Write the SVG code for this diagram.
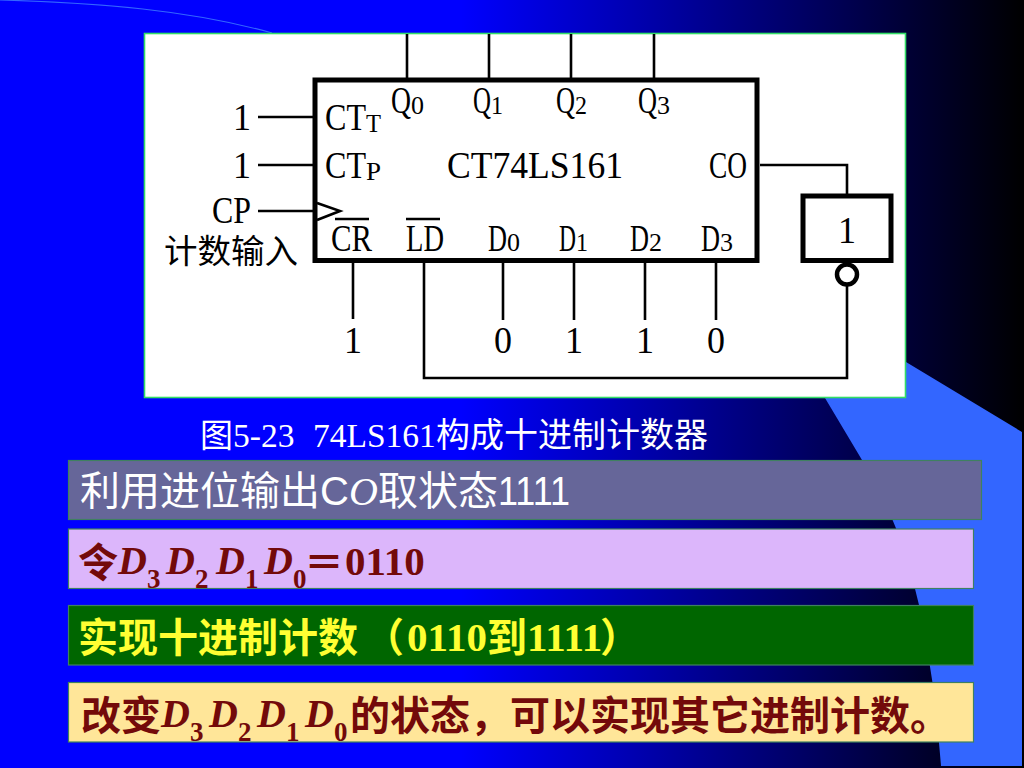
<svg xmlns="http://www.w3.org/2000/svg" width="1024" height="768" viewBox="0 0 1024 768">
<style>
.w{stroke:#000;stroke-width:2.6;fill:none}
.b{stroke:#000;stroke-width:5;fill:none}
.m{font-family:"Liberation Serif",serif;font-size:37px;fill:#000}
.s{font-family:"Liberation Serif",serif;font-size:26px;fill:#000}
.c{font-family:"Noto Sans CJK SC",sans-serif;font-size:40px}
.cb{font-family:"Noto Sans CJK SC",sans-serif;font-size:40px;font-weight:700}
.tb{font-family:"Liberation Serif",serif;font-size:41px;font-weight:700}
.ti{font-family:"Liberation Serif",serif;font-size:40px;font-weight:700;font-style:italic}
.sub{font-family:"Liberation Serif",serif;font-size:27px;font-weight:700}
.red{fill:#730a0a}
.row{stroke:#3f8060;stroke-width:1.2}
</style>
<defs><linearGradient id="bg" x1="0" y1="0" x2="1" y2="0"><stop offset="0.45" stop-color="#0000ff"/><stop offset="1" stop-color="#000000"/></linearGradient></defs>
<rect width="1024" height="768" fill="url(#bg)"/>
<path d="M0 0C100 3 190 10 272 33" fill="none" stroke="#3366ff" stroke-width="1.2"/>
<path d="M906 362L1022 432V766H941Q935 680 919 605Q900 520 862 460L825 398Z" fill="#3366ff"/>
<rect x="144.500" y="33.500" width="761" height="364" fill="#fff" stroke="#33dd66" stroke-width="1.6"/>
<g id="connectors">
<path class="w" d="M407 34V78M489 34V78M571 34V78M654 34V78"/>
<path class="w" d="M258 117H313M258 165H313M258 211H316"/>
<path class="w" d="M353 263V319M503 263V320M574 263V320M645 263V320M716 263V320"/>
<path class="w" d="M424 263V378H847V286"/>
<path class="w" d="M760 165H847V194"/>
</g>
<g id="chip">
<rect class="b" x="315" y="80" width="442" height="180.500"/>
<path class="w" d="M317 203L340 211L317 220"/>
<path class="w" d="M335 219H369M406 219H440"/>
<text class="m" x="325" y="130" textLength="41" lengthAdjust="spacingAndGlyphs">CT</text><text class="s" x="366" y="132" textLength="15" lengthAdjust="spacingAndGlyphs">T</text>
<text class="m" x="325" y="178" textLength="41" lengthAdjust="spacingAndGlyphs">CT</text><text class="s" x="366" y="180" textLength="15" lengthAdjust="spacingAndGlyphs">P</text>
<text class="m" x="391" y="113" textLength="20" lengthAdjust="spacingAndGlyphs">Q</text><text class="s" x="411" y="114" textLength="13" lengthAdjust="spacingAndGlyphs">0</text>
<text class="m" x="473" y="113" textLength="18" lengthAdjust="spacingAndGlyphs">Q</text><text class="s" x="491" y="114" textLength="12" lengthAdjust="spacingAndGlyphs">1</text>
<text class="m" x="556" y="113" textLength="19" lengthAdjust="spacingAndGlyphs">Q</text><text class="s" x="575" y="114" textLength="12" lengthAdjust="spacingAndGlyphs">2</text>
<text class="m" x="638" y="113" textLength="19" lengthAdjust="spacingAndGlyphs">Q</text><text class="s" x="657" y="114" textLength="13" lengthAdjust="spacingAndGlyphs">3</text>
<text class="m" x="447" y="178" textLength="176" lengthAdjust="spacingAndGlyphs">CT74LS161</text>
<text class="m" x="709" y="178" textLength="38" lengthAdjust="spacingAndGlyphs">CO</text>
<text class="m" x="331" y="251" textLength="41" lengthAdjust="spacingAndGlyphs">CR</text>
<text class="m" x="406" y="251" textLength="38" lengthAdjust="spacingAndGlyphs">LD</text>
<text class="m" x="488" y="251" textLength="19" lengthAdjust="spacingAndGlyphs">D</text><text class="s" x="507" y="251" textLength="13" lengthAdjust="spacingAndGlyphs">0</text>
<text class="m" x="559" y="251" textLength="17" lengthAdjust="spacingAndGlyphs">D</text><text class="s" x="576" y="251" textLength="12" lengthAdjust="spacingAndGlyphs">1</text>
<text class="m" x="630" y="251" textLength="19" lengthAdjust="spacingAndGlyphs">D</text><text class="s" x="649" y="251" textLength="13" lengthAdjust="spacingAndGlyphs">2</text>
<text class="m" x="701" y="251" textLength="19" lengthAdjust="spacingAndGlyphs">D</text><text class="s" x="720" y="251" textLength="13" lengthAdjust="spacingAndGlyphs">3</text>
</g>
<g id="inputs">
<text class="m" x="233" y="130" textLength="18" lengthAdjust="spacingAndGlyphs">1</text>
<text class="m" x="233" y="178" textLength="18" lengthAdjust="spacingAndGlyphs">1</text>
<text class="m" x="212" y="223" textLength="39" lengthAdjust="spacingAndGlyphs">CP</text>
<text x="164" y="263" font-family="Noto Sans CJK SC,sans-serif" font-size="33.500" fill="#000">计数输入</text>
<text class="m" x="344" y="353" textLength="18" lengthAdjust="spacingAndGlyphs">1</text>
<text class="m" x="494" y="353" textLength="18" lengthAdjust="spacingAndGlyphs">0</text>
<text class="m" x="565" y="353" textLength="18" lengthAdjust="spacingAndGlyphs">1</text>
<text class="m" x="636" y="353" textLength="18" lengthAdjust="spacingAndGlyphs">1</text>
<text class="m" x="707" y="353" textLength="18" lengthAdjust="spacingAndGlyphs">0</text>
</g>
<g id="not-gate">
<rect class="b" x="803" y="196" width="88" height="64.500"/>
<circle cx="847" cy="274.500" r="10" fill="#fff" stroke="#000" stroke-width="4.500"/>
<text class="m" x="838" y="243" textLength="18" lengthAdjust="spacingAndGlyphs">1</text>
</g>
<g id="caption" fill="#fff">
<text x="200" y="447" font-family="Noto Sans CJK SC,sans-serif" font-size="33">图</text>
<text x="233" y="447" font-family="Liberation Serif,serif" font-size="33.500">5-23</text>
<text x="313" y="447" font-family="Liberation Serif,serif" font-size="33.500">74LS161</text>
<text x="436" y="447" font-family="Noto Sans CJK SC,sans-serif" font-size="34">构成十进制计数器</text>
</g>
<g id="row1">
<rect class="row" x="68.500" y="460.500" width="913" height="59" fill="#666699"/>
<text class="c" x="80" y="505" fill="#fff">利用进位输出</text>
<text x="320" y="505" font-family="Liberation Sans,sans-serif" font-size="40" fill="#fff">C</text>
<text x="349" y="505" font-family="Liberation Serif,serif" font-style="italic" font-size="40" fill="#fff">O</text>
<text class="c" x="378" y="505" fill="#fff">取状态</text>
<text x="498" y="505" font-family="Liberation Sans,sans-serif" font-size="40" textLength="72" lengthAdjust="spacingAndGlyphs" fill="#fff">1111</text>
</g>
<g id="row2" class="red">
<rect class="row" x="68.500" y="529" width="905" height="59.500" fill="#dcb6fb"/>
<text class="cb" x="78" y="577">令</text>
<text class="ti" x="118" y="574">D</text><text class="sub" x="147" y="588">3</text>
<text class="ti" x="166" y="574">D</text><text class="sub" x="195" y="588">2</text>
<text class="ti" x="216" y="574">D</text><text class="sub" x="245" y="588">1</text>
<text class="ti" x="264" y="574">D</text><text class="sub" x="293" y="588">0</text>
<text class="cb" x="304" y="577">＝</text>
<text class="tb" x="345" y="575">0110</text>
</g>
<g id="row3" fill="#ffff33">
<rect class="row" x="68.500" y="605.500" width="905" height="59.500" fill="#006600"/>
<text class="cb" x="78" y="652">实现十进制计数</text>
<text class="cb" x="364" y="652">（</text>
<text class="tb" x="407" y="651" textLength="80">0110</text>
<text class="cb" x="487" y="652">到</text>
<text class="tb" x="527" y="651">1111</text>
<text class="cb" x="600" y="652">）</text>
</g>
<g id="row4" class="red">
<rect class="row" x="68.500" y="682.500" width="905" height="59.500" fill="#ffe699"/>
<text class="cb" x="81" y="730">改变</text>
<text class="ti" x="161" y="727">D</text><text class="sub" x="190" y="741">3</text>
<text class="ti" x="209" y="727">D</text><text class="sub" x="238" y="741">2</text>
<text class="ti" x="257" y="727">D</text><text class="sub" x="286" y="741">1</text>
<text class="ti" x="305" y="727">D</text><text class="sub" x="334" y="741">0</text>
<text class="cb" x="350" y="730">的状态，可以实现其它进制计数。</text>
</g>
</svg>
